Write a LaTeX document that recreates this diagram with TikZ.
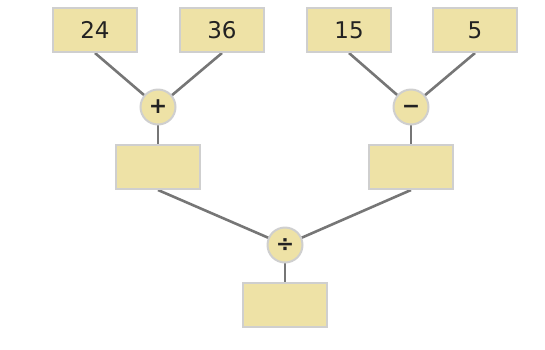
\documentclass[tikz,border=0pt]{standalone}
\usepackage{fontspec}
\setmainfont{DejaVu Sans}
\usetikzlibrary{backgrounds}
\definecolor{boxfill}{HTML}{EEE2A6}
\definecolor{boxline}{HTML}{CFCFCF}
\definecolor{conn}{HTML}{767676}
\definecolor{txt}{HTML}{222222}
\newcommand\opglyph[1]{\raisebox{-6.9pt}[0pt][0pt]{#1}}
\tikzset{
  numbox/.style={rectangle, draw=boxline, fill=boxfill, line width=2pt, minimum width=84pt, minimum height=44pt, inner sep=0pt, text=txt, font=\fontsize{23}{23}\selectfont},
  opcirc/.style={circle, draw=boxline, fill=boxfill, line width=2pt, minimum size=35pt, inner sep=0pt, text=txt, font=\fontsize{22}{22}\selectfont\bfseries},
  link/.style={draw=conn, line width=2.6pt}
}
\begin{document}
\begin{tikzpicture}[x=1pt,y=-1pt]
\useasboundingbox (0,0) rectangle (545,349);
\node[numbox] (a) at (95,30) {24};
\node[numbox] (b) at (222,30) {36};
\node[numbox] (c) at (349,30) {15};
\node[numbox] (d) at (475,30) {5};
\node[opcirc] (plus) at (158,107) {\opglyph{+}};
\node[opcirc] (minus) at (411,107) {\opglyph{−}};
\node[numbox] (r1) at (158,167) {};
\node[numbox] (r2) at (411,167) {};
\node[opcirc] (div) at (285,245) {\opglyph{÷}};
\node[numbox] (res) at (285,305) {};
\begin{scope}[on background layer]
\draw[link] (a.south) -- (plus.center);
\draw[link] (b.south) -- (plus.center);
\draw[link] (c.south) -- (minus.center);
\draw[link] (d.south) -- (minus.center);
\draw[link] (plus.center) -- (r1.center);
\draw[link] (minus.center) -- (r2.center);
\draw[link] (r1.south) -- (div.center);
\draw[link] (r2.south) -- (div.center);
\draw[link] (div.center) -- (res.center);
\end{scope}
\end{tikzpicture}
\end{document}
